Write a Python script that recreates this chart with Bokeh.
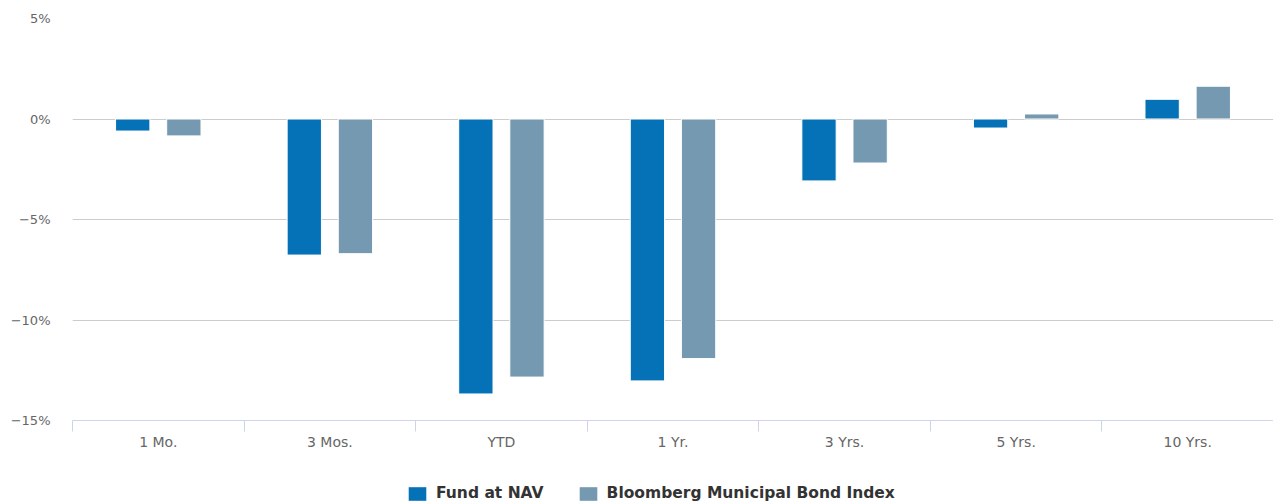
from bokeh.plotting import figure
from bokeh.layouts import column
from bokeh.models import Range1d, FixedTicker, ColumnDataSource, Legend, LegendItem
from bokeh.embed import file_html
from bokeh.resources import INLINE

categories = ["1 Mo.", "3 Mos.", "YTD", "1 Yr.", "3 Yrs.", "5 Yrs.", "10 Yrs."]
fund_nav = [-0.60, -6.77, -13.68, -13.03, -3.08, -0.45, 0.98]
muni_index = [-0.84, -6.70, -12.84, -11.92, -2.19, 0.25, 1.63]
series_names = ["Fund at NAV", "Bloomberg Municipal Bond Index"]
y_ticks = [-15, -10, -5, 0, 5]

FONT = "DejaVu Sans"
C_FUND = "#0572b8"
C_IDX = "#7499b0"

n = len(categories)
centers = [i + 0.5 for i in range(n)]
src = ColumnDataSource(dict(
    x_f=[c - 0.149 for c in centers],
    x_i=[c + 0.149 for c in centers],
    fund=fund_nav, idx=muni_index,
))

p = figure(frame_width=1201, frame_height=402, output_backend="svg", toolbar_location=None,
           x_range=Range1d(0, n), y_range=Range1d(-15, 5),
           min_border_left=72, min_border_right=0, min_border_top=18, min_border_bottom=50)
p.outline_line_color = None
p.xgrid.visible = False
p.ygrid.grid_line_color = "#cccccc"
p.ygrid.ticker = FixedTicker(ticks=y_ticks)

p.vbar(x="x_f", top="fund", bottom=0, width=0.2, source=src,
       fill_color=C_FUND, line_color="white", line_width=1)
p.vbar(x="x_i", top="idx", bottom=0, width=0.2, source=src,
       fill_color=C_IDX, line_color="white", line_width=1)

yax = p.yaxis[0]
yax.ticker = FixedTicker(ticks=y_ticks, minor_ticks=[])
yax.major_label_overrides = {t: (f"{t}%".replace("-", "\u2212")) for t in y_ticks}
yax.axis_line_color = None
yax.major_tick_line_color = None
yax.major_tick_out = 0
yax.major_tick_in = 0
yax.minor_tick_line_color = None
yax.major_label_standoff = 22
yax.major_label_text_font = FONT
yax.major_label_text_font_size = "13px"
yax.major_label_text_color = "#666666"

xax = p.xaxis[0]
xax.ticker = FixedTicker(ticks=centers, minor_ticks=list(range(n + 1)))
xax.major_label_overrides = {c: categories[i] for i, c in enumerate(centers)}
xax.axis_line_color = "#ccd6eb"
xax.major_tick_line_color = None
xax.major_tick_out = 0
xax.major_tick_in = 0
xax.minor_tick_line_color = "#ccd6eb"
xax.minor_tick_out = 11
xax.minor_tick_in = 0
xax.major_label_standoff = 2
xax.major_label_text_font = FONT
xax.major_label_text_font_size = "14px"
xax.major_label_text_color = "#666666"

# legend strip below the chart (swatch renderers sit outside the visible range)
p2 = figure(width=1273, height=34, output_backend="svg", toolbar_location=None,
            x_range=Range1d(0, 1), y_range=Range1d(0, 1),
            min_border_left=0, min_border_right=0, min_border_top=0, min_border_bottom=0)
p2.axis.visible = False
p2.grid.visible = False
p2.outline_line_color = None
l1 = p2.vbar(x=[-5], top=[-5], bottom=-6, width=0.1, fill_color=C_FUND, line_color=None)
l2 = p2.vbar(x=[-5], top=[-5], bottom=-6, width=0.1, fill_color=C_IDX, line_color=None)

legend = Legend(items=[LegendItem(label=series_names[0], renderers=[l1]),
                       LegendItem(label=series_names[1], renderers=[l2])],
                orientation="horizontal", location=(334, 2),
                label_text_font=FONT, label_text_font_size="15.5px",
                label_text_font_style="bold", label_text_color="#333333",
                glyph_width=22, glyph_height=17, spacing=33, label_standoff=8,
                border_line_color=None, background_fill_alpha=0, margin=0, padding=0)
p2.add_layout(legend)

open("out.html", "w").write(file_html(column(p, p2), INLINE))
